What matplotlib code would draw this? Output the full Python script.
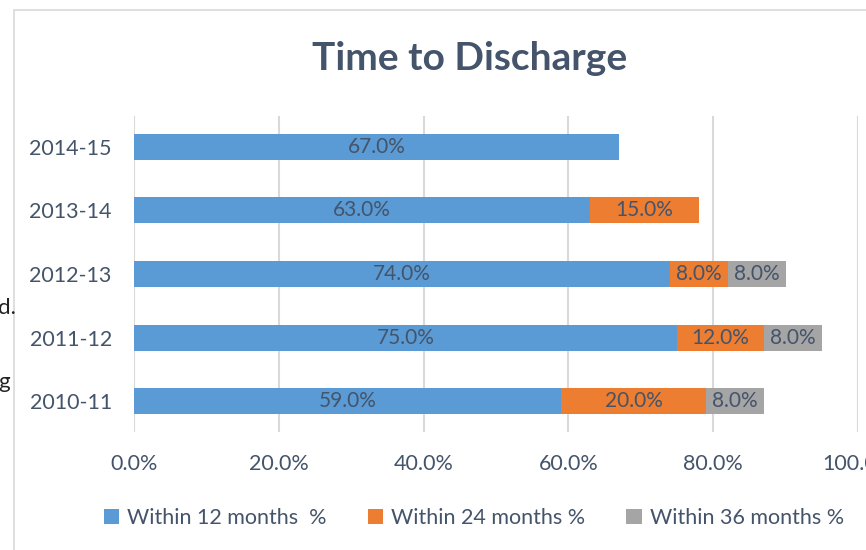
import numpy as np
import matplotlib.pyplot as plt
from matplotlib.patches import Rectangle

plt.rcParams['font.family'] = ['Lato', 'DejaVu Sans']

years = ["2010-11", "2011-12", "2012-13", "2013-14", "2014-15"]
within_12 = [59.0, 75.0, 74.0, 63.0, 67.0]
within_24 = [20.0, 12.0, 8.0, 15.0, 0.0]
within_36 = [8.0, 8.0, 8.0, 0.0, 0.0]
series_names = ["Within 12 months  %", "Within 24 months %", "Within 36 months %"]
colors = ["#5B9BD5", "#ED7D31", "#A5A5A5"]
text_col = "#44546A"

fig = plt.figure(figsize=(8.66, 5.5), dpi=100)
ax = fig.add_axes([134 / 866, 1 - 432 / 550, 724 / 866, 316 / 550])

# chart border (the screenshot is cut at the right and bottom)
fig.patches.append(Rectangle((14 / 866, -0.1), 2, 1.1 - 10 / 550, transform=fig.transFigure,
                             fill=False, edgecolor="#D9D9D9", linewidth=1.2, zorder=0))
# stray document text peeking in at the left edge
fig.text(-2 / 866, 1 - 308 / 550, "d.", fontsize=16, color="#222222", va="center")
fig.text(-2 / 866, 1 - 382 / 550, "g", fontsize=16, color="#222222", va="center")

y = np.arange(len(years))
left = np.zeros(len(years))
for vals, name, c in zip([within_12, within_24, within_36], series_names, colors):
    vals = np.array(vals)
    bars = ax.barh(y, vals, left=left, height=0.41, color=c, label=name, zorder=3)
    for b, v in zip(bars, vals):
        if v > 0:
            ax.text(b.get_x() + b.get_width() / 2, b.get_y() + b.get_height() / 2,
                    f"{v:.1f}%", ha="center", va="center", fontsize=15, color=text_col, zorder=4)
    left += vals

ax.set_xlim(0, 100)
ax.set_ylim(-0.48, 4.48)
ax.set_xticks(np.arange(0, 101, 20))
ax.set_xticklabels([f"{t:.1f}%" for t in np.arange(0, 101, 20)])
ax.set_yticks(y)
ax.set_yticklabels(years)
ax.tick_params(length=0, labelsize=15.5, labelcolor=text_col)
ax.tick_params(axis="y", pad=16)
ax.tick_params(axis="x", pad=16)
ax.xaxis.grid(True, color="#D9D9D9", linewidth=1.5, zorder=0)
for s in ax.spines.values():
    s.set_visible(False)

fig.text(470 / 866, 1 - 58 / 550, "Time to Discharge", ha="center", va="center",
         fontsize=28, fontweight="bold", color=text_col)

fig.legend(loc="center", bbox_to_anchor=(474 / 866, 1 - 518 / 550), ncol=3, frameon=False,
           fontsize=15.5, labelcolor=text_col, handlelength=0.7, handleheight=0.7,
           handletextpad=0.4, columnspacing=1.9)

fig.savefig("out.png", dpi=100)
